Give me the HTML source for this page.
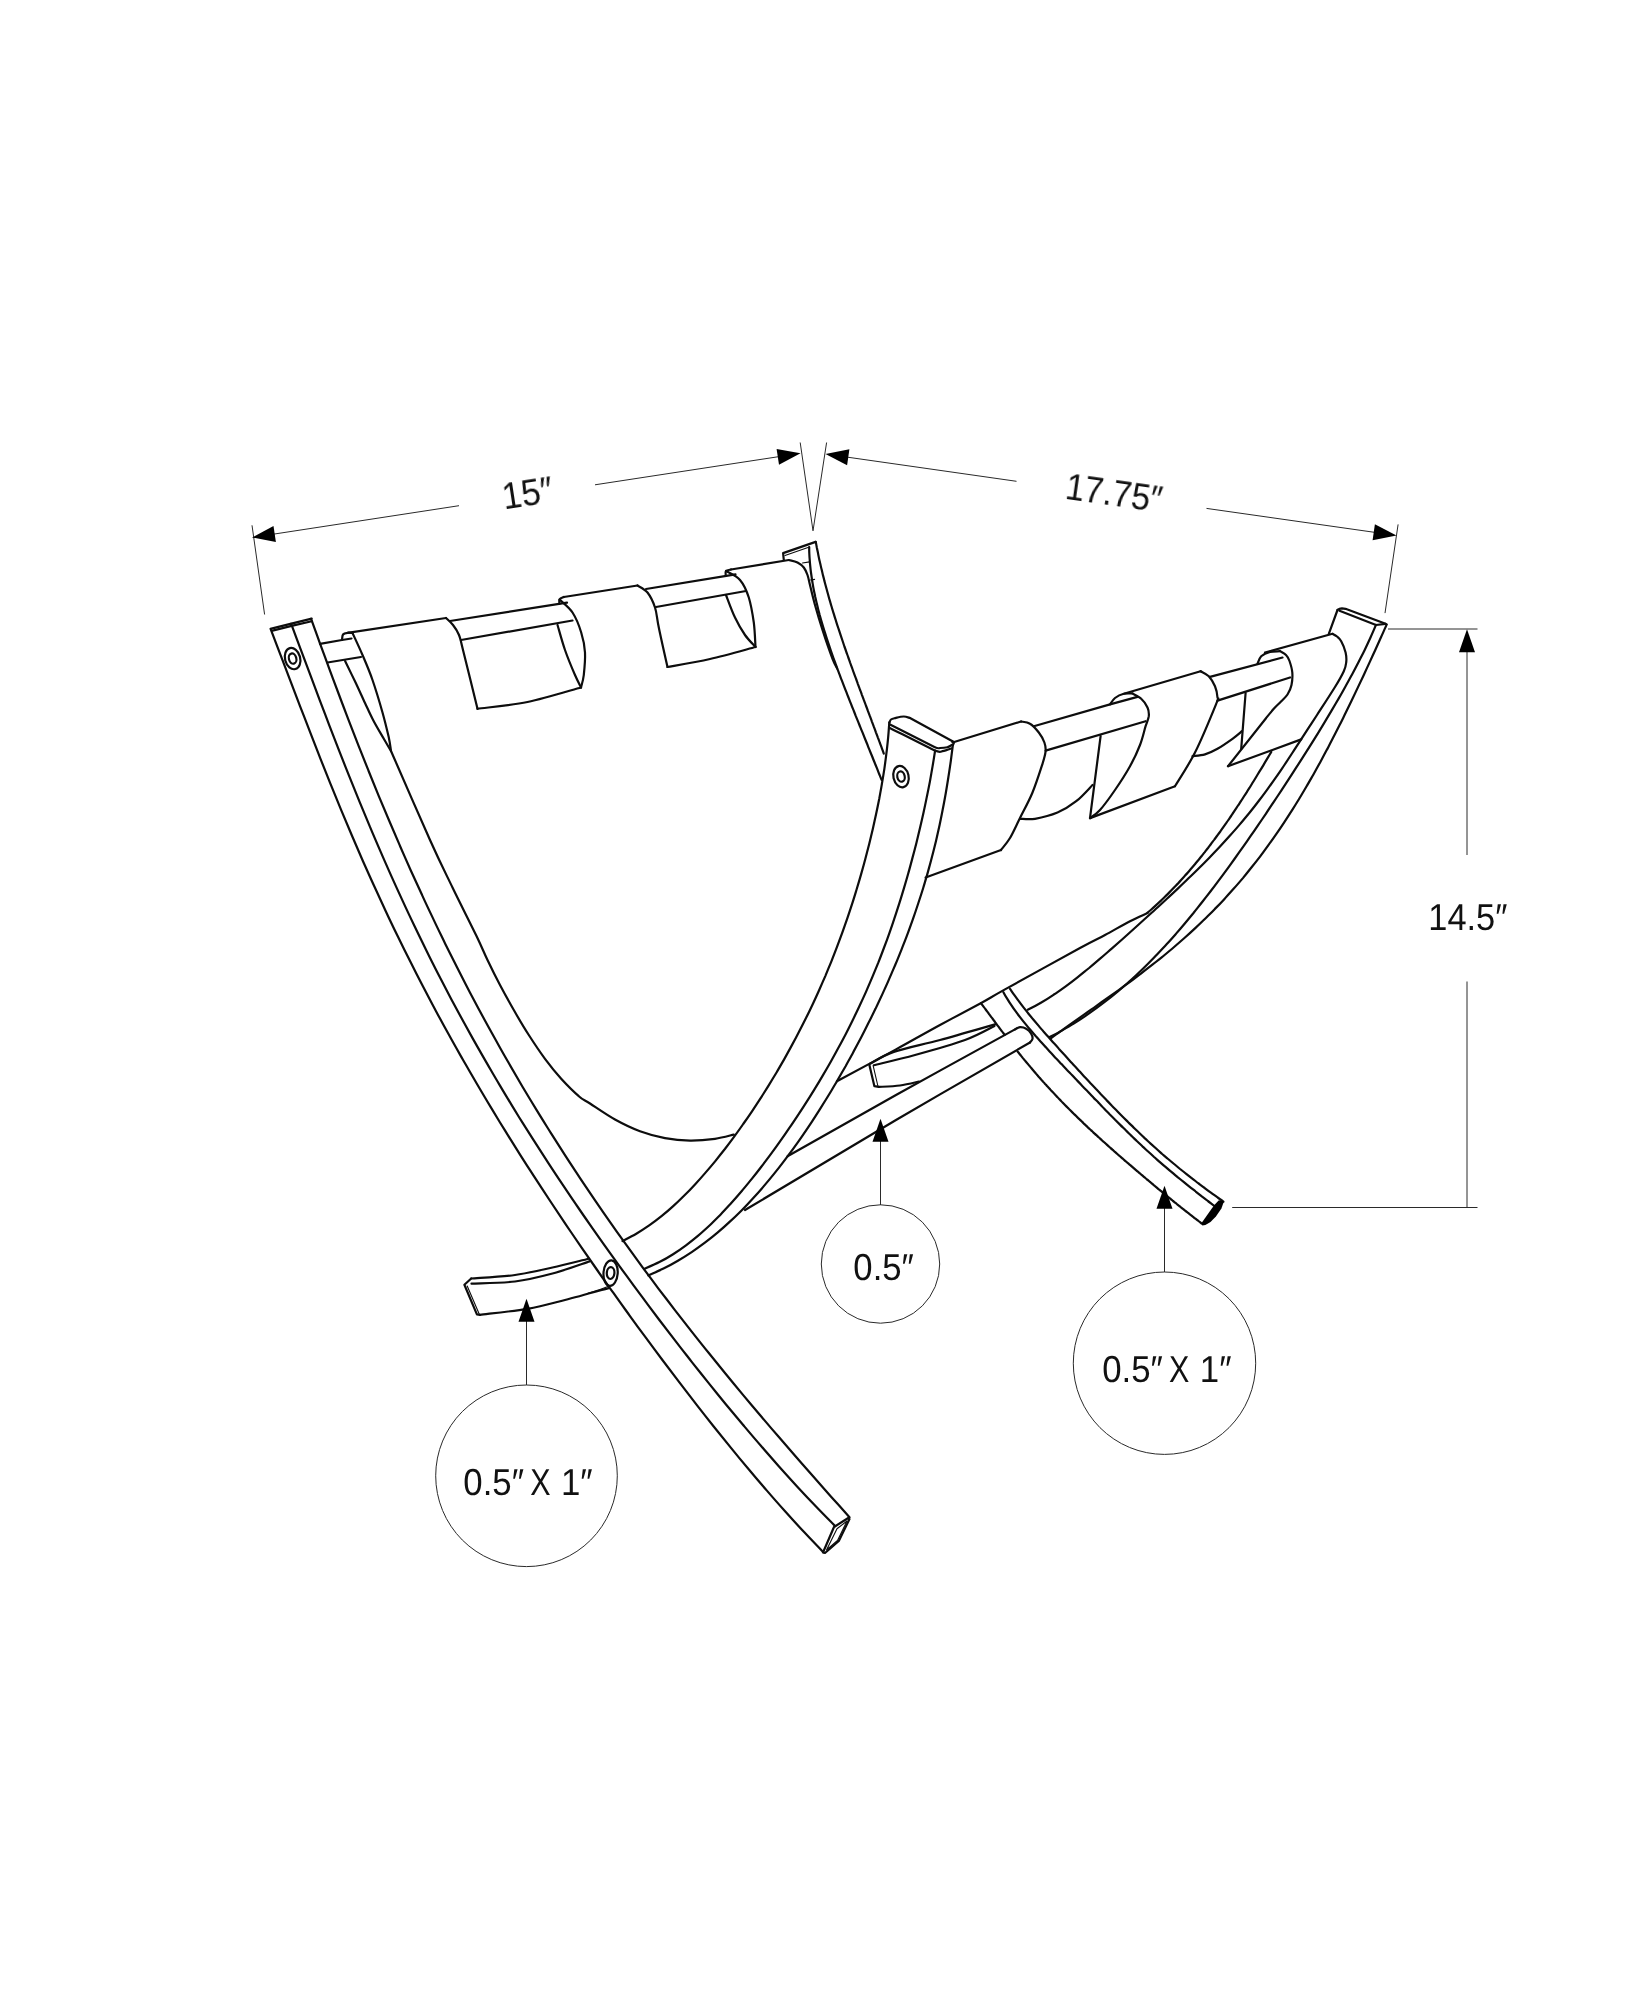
<!DOCTYPE html>
<html lang="en"><head><meta charset="utf-8"><title>Magazine rack dimensions</title>
<style>html,body{margin:0;padding:0;background:#fff}body{width:1648px;height:2000px;overflow:hidden}svg{display:block}</style>
</head><body>
<svg width="1648" height="2000" viewBox="0 0 1648 2000">
<rect width="1648" height="2000" fill="#fff"/>
<g fill="none" stroke="#0d0d0d" stroke-width="2.2" stroke-linecap="round" stroke-linejoin="round">
<path d="M270.6 628.9C272.2 633.3 277.2 646.2 280.5 654.9C283.8 663.5 287.1 672.2 290.4 680.8C293.7 689.5 297.0 698.1 300.3 706.8C303.7 715.4 307.0 724.1 310.3 732.7C313.7 741.4 317.0 750.0 320.4 758.6C323.9 767.2 327.3 775.8 330.7 784.4C334.2 793.0 337.7 801.6 341.2 810.1C344.8 818.7 348.4 827.2 352.0 835.7C355.6 844.2 359.3 852.7 363.0 861.2C366.8 869.7 370.5 878.1 374.4 886.5C378.2 894.9 382.1 903.3 386.0 911.7C389.9 920.1 393.9 928.4 398.0 936.8C402.0 945.1 406.1 953.4 410.3 961.6C414.4 969.9 418.6 978.1 422.9 986.3C427.2 994.6 431.5 1002.7 435.9 1010.9C440.2 1019.0 444.7 1027.2 449.2 1035.3C453.6 1043.4 458.2 1051.4 462.8 1059.5C467.4 1067.5 472.0 1075.6 476.7 1083.5C481.4 1091.5 486.1 1099.5 490.9 1107.4C495.7 1115.4 500.5 1123.3 505.4 1131.2C510.3 1139.1 515.2 1146.9 520.2 1154.8C525.1 1162.6 530.2 1170.4 535.2 1178.2C540.3 1186.0 545.3 1193.7 550.5 1201.5C555.6 1209.2 560.7 1216.9 565.9 1224.6C571.1 1232.3 576.4 1240.0 581.6 1247.6C586.9 1255.3 592.2 1262.9 597.5 1270.5C602.8 1278.1 608.2 1285.6 613.6 1293.2C618.9 1300.8 624.4 1308.3 629.8 1315.8C635.2 1323.3 640.7 1330.8 646.2 1338.2C651.7 1345.7 657.2 1353.1 662.8 1360.5C668.4 1367.9 674.0 1375.3 679.6 1382.7C685.2 1390.0 690.9 1397.4 696.5 1404.7C702.2 1412.0 708.0 1419.2 713.7 1426.5C719.5 1433.7 725.3 1440.9 731.2 1448.1C737.0 1455.3 742.9 1462.4 748.9 1469.5C754.8 1476.6 760.8 1483.6 766.9 1490.6C772.9 1497.6 779.1 1504.6 785.3 1511.5C791.5 1518.4 797.7 1525.3 804.1 1532.1C810.4 1538.9 820.2 1548.9 823.4 1552.3"/>
<path d="M291.2 623.8C292.7 628.0 297.5 640.7 300.6 649.2C303.8 657.7 307.0 666.2 310.2 674.7C313.3 683.2 316.5 691.7 319.7 700.2C323.0 708.7 326.2 717.1 329.4 725.6C332.7 734.1 336.0 742.6 339.3 751.1C342.6 759.5 345.9 768.0 349.3 776.4C352.7 784.9 356.1 793.3 359.5 801.7C363.0 810.1 366.5 818.5 370.0 826.9C373.5 835.3 377.1 843.6 380.7 851.9C384.3 860.3 388.0 868.6 391.7 876.9C395.4 885.2 399.2 893.4 403.0 901.6C406.8 909.9 410.7 918.1 414.6 926.3C418.5 934.5 422.5 942.6 426.5 950.7C430.5 958.9 434.6 967.0 438.7 975.0C442.9 983.1 447.1 991.2 451.3 999.2C455.6 1007.2 459.9 1015.2 464.2 1023.1C468.6 1031.1 473.0 1039.0 477.5 1046.9C482.0 1054.8 486.5 1062.7 491.1 1070.5C495.6 1078.3 500.3 1086.1 504.9 1093.9C509.6 1101.7 514.4 1109.4 519.1 1117.2C523.9 1124.9 528.8 1132.6 533.6 1140.2C538.5 1147.9 543.5 1155.5 548.4 1163.1C553.4 1170.8 558.4 1178.3 563.5 1185.9C568.5 1193.4 573.6 1201.0 578.8 1208.5C583.9 1216.0 589.1 1223.4 594.3 1230.9C599.5 1238.3 604.8 1245.8 610.1 1253.1C615.4 1260.5 620.7 1267.9 626.1 1275.2C631.4 1282.6 636.8 1289.9 642.3 1297.2C647.7 1304.5 653.1 1311.7 658.6 1319.0C664.1 1326.2 669.6 1333.4 675.2 1340.6C680.7 1347.8 686.3 1354.9 691.9 1362.1C697.6 1369.2 703.2 1376.3 708.9 1383.4C714.6 1390.4 720.3 1397.5 726.0 1404.5C731.8 1411.5 737.6 1418.4 743.4 1425.3C749.3 1432.3 755.1 1439.2 761.1 1446.0C767.0 1452.9 773.0 1459.7 779.0 1466.5C785.0 1473.2 791.1 1480.0 797.3 1486.7C803.4 1493.3 809.7 1500.0 816.0 1506.5C822.3 1513.1 831.9 1522.8 835.1 1526.1"/>
<path d="M311.1 618.9C312.6 623.1 317.2 635.8 320.3 644.3C323.4 652.7 326.5 661.2 329.6 669.6C332.7 678.1 335.9 686.5 339.1 695.0C342.2 703.4 345.5 711.9 348.7 720.3C351.9 728.7 355.2 737.1 358.5 745.6C361.8 754.0 365.2 762.4 368.5 770.7C371.9 779.1 375.3 787.5 378.7 795.8C382.2 804.2 385.7 812.5 389.2 820.8C392.7 829.1 396.3 837.4 399.9 845.7C403.5 854.0 407.1 862.2 410.8 870.5C414.5 878.7 418.3 886.9 422.1 895.1C425.8 903.3 429.7 911.4 433.6 919.6C437.4 927.7 441.4 935.8 445.3 943.9C449.3 952.0 453.4 960.1 457.4 968.1C461.5 976.2 465.6 984.2 469.8 992.2C474.0 1000.1 478.2 1008.1 482.5 1016.0C486.8 1024.0 491.2 1031.9 495.6 1039.7C499.9 1047.6 504.4 1055.5 508.9 1063.3C513.4 1071.1 517.9 1078.9 522.5 1086.7C527.1 1094.4 531.8 1102.2 536.5 1109.9C541.2 1117.6 546.0 1125.2 550.8 1132.9C555.6 1140.5 560.4 1148.1 565.3 1155.7C570.2 1163.3 575.2 1170.8 580.2 1178.4C585.2 1185.9 590.3 1193.4 595.4 1200.8C600.5 1208.3 605.6 1215.7 610.8 1223.1C616.0 1230.5 621.2 1237.8 626.5 1245.2C631.8 1252.5 637.1 1259.8 642.4 1267.1C647.8 1274.3 653.2 1281.6 658.6 1288.8C664.1 1296.0 669.6 1303.1 675.1 1310.3C680.6 1317.4 686.1 1324.5 691.7 1331.6C697.3 1338.7 702.9 1345.8 708.6 1352.8C714.2 1359.8 719.9 1366.8 725.6 1373.8C731.3 1380.7 737.1 1387.7 742.8 1394.6C748.6 1401.5 754.4 1408.4 760.2 1415.3C766.1 1422.2 771.9 1429.0 777.8 1435.8C783.7 1442.7 789.6 1449.5 795.5 1456.3C801.4 1463.1 807.4 1469.9 813.3 1476.6C819.3 1483.4 825.3 1490.2 831.3 1496.9C837.4 1503.7 846.5 1513.8 849.5 1517.2"/>
<path d="M271.4 628.6L291.4 623.6L311.7 618.6"/>
<path d="M272.6 630.6L291.6 625.9L311.6 621.2"/>
<path d="M849.0 1517.5L834.0 1527.0L823.0 1552.5L825.0 1553.0L838.8 1541.0L849.5 1519.0"/>
<path d="M320.0 643.8L342.0 640.0"/>
<path d="M327.5 662.5L361.0 657.0"/>
<path d="M342.0 640.0C342.2 639.1 342.1 635.7 343.0 634.5C343.9 633.3 345.9 633.0 347.5 632.8C349.1 632.5 351.7 633.0 352.5 633.0"/>
<path d="M342.0 640.0L351.5 638.5"/>
<path d="M347.5 632.8L446.0 618.0"/>
<path d="M352.5 633.0C354.2 636.7 359.2 647.2 362.5 655.0C365.8 662.8 369.2 670.4 372.5 680.0C375.8 689.6 379.8 702.9 382.5 712.5C385.2 722.1 387.3 731.1 388.8 737.5C390.2 743.9 390.6 748.8 391.0 751.0"/>
<path d="M345.1 661.1C346.9 664.8 352.4 676.0 355.8 683.0C359.1 690.0 362.1 696.8 365.0 703.0C367.9 709.2 370.0 714.0 373.1 720.0C376.2 726.0 380.8 733.6 383.8 738.8C386.7 743.9 389.8 749.0 391.0 751.0"/>
<path d="M391.0 751.0C397.5 765.8 419.8 817.2 430.0 840.0C440.2 862.8 444.8 871.5 452.5 887.5C460.2 903.5 470.7 923.9 476.5 936.0C482.3 948.1 483.6 951.8 487.5 960.0C491.4 968.2 495.6 976.7 500.0 985.0C504.4 993.3 509.0 1001.7 513.8 1010.0C518.5 1018.3 523.5 1026.9 528.8 1035.0C534.0 1043.1 539.6 1051.5 545.0 1058.8C550.4 1066.0 555.6 1072.5 561.2 1078.8C566.9 1085.0 574.0 1092.1 578.8 1096.2C583.5 1100.4 584.0 1099.6 590.0 1103.5C596.0 1107.4 606.7 1114.9 615.0 1119.5C623.3 1124.1 631.7 1128.2 640.0 1131.2C648.3 1134.3 656.7 1136.5 665.0 1138.1C673.3 1139.7 681.7 1140.5 690.0 1140.6C698.3 1140.7 707.7 1139.8 715.0 1138.8C722.3 1137.8 730.6 1135.3 733.8 1134.6"/>
<path d="M446.0 618.0C447.2 619.2 450.8 622.2 453.0 625.0C455.2 627.8 457.3 630.8 459.0 635.0C460.7 639.2 459.9 637.7 463.0 650.0C466.1 662.3 475.1 699.0 477.5 708.8"/>
<path d="M477.5 708.8C485.8 707.6 510.2 705.5 527.5 702.0C544.8 698.5 572.1 689.9 581.0 687.5"/>
<path d="M559.5 599.5C561.7 601.7 568.9 607.0 572.5 612.5C576.1 618.0 579.2 625.8 581.2 632.5C583.3 639.2 584.6 645.4 585.0 652.5C585.4 659.6 584.4 669.2 583.8 675.0C583.1 680.8 581.5 685.4 581.0 687.5"/>
<path d="M557.5 625.0C558.8 629.2 562.1 641.7 565.0 650.0C567.9 658.3 572.3 668.8 575.0 675.0C577.7 681.2 580.0 685.4 581.0 687.5"/>
<path d="M450.0 621.0L567.0 602.6"/>
<path d="M461.0 640.0L572.5 620.5"/>
<path d="M559.5 603.8C559.5 603.0 558.8 600.6 559.5 599.5C560.2 598.4 563.0 597.4 563.8 597.0"/>
<path d="M563.8 597.0L637.5 585.5"/>
<path d="M637.5 585.5C639.2 586.7 644.6 588.8 647.5 592.5C650.4 596.2 653.1 601.7 655.0 607.5C656.9 613.3 656.7 617.6 658.8 627.5C660.8 637.4 666.0 660.4 667.5 667.0"/>
<path d="M667.5 667.0C674.6 665.7 695.3 662.3 710.0 659.0C724.7 655.7 747.9 649.0 755.5 647.0"/>
<path d="M726.0 571.0C728.3 572.5 736.2 575.6 740.0 580.0C743.8 584.4 746.5 590.4 748.8 597.5C751.0 604.6 752.6 614.2 753.8 622.5C754.9 630.8 755.2 642.9 755.5 647.0"/>
<path d="M726.0 595.0C727.5 598.8 731.8 610.8 735.0 617.5C738.2 624.2 741.6 630.1 745.0 635.0C748.4 639.9 753.8 645.0 755.5 647.0"/>
<path d="M646.0 589.0L735.5 574.4"/>
<path d="M656.0 607.0L746.0 591.0"/>
<path d="M725.8 576.0C725.8 575.2 725.1 572.1 726.0 571.0C726.9 569.9 730.2 569.8 731.0 569.5"/>
<path d="M731.0 569.5L788.8 560.0"/>
<path d="M788.8 560.0C790.2 560.4 795.0 561.2 797.5 562.5C800.0 563.8 802.1 565.4 803.8 567.5C805.4 569.6 806.5 572.1 807.5 575.0C808.5 577.9 808.8 580.0 810.0 585.0C811.2 590.0 812.9 597.5 815.0 605.0C817.1 612.5 819.6 621.0 822.5 630.0C825.4 639.0 830.0 652.3 832.5 658.8C835.0 665.2 836.4 666.9 837.2 668.5"/>
<path d="M783.8 560.0L783.1 553.1L815.6 541.9"/>
<path d="M815.8 541.8C815.9 542.8 816.5 545.6 816.8 547.5C817.2 549.4 817.6 551.2 818.0 553.1C818.3 555.0 818.7 556.8 819.1 558.7C819.5 560.6 820.0 562.4 820.4 564.3C820.8 566.1 821.2 568.0 821.7 569.8C822.1 571.7 822.6 573.6 823.0 575.4C823.5 577.2 824.0 579.1 824.4 580.9C824.9 582.8 825.4 584.6 825.9 586.5C826.4 588.3 826.9 590.1 827.4 592.0C827.9 593.8 828.4 595.6 828.9 597.5C829.4 599.3 830.0 601.1 830.5 603.0C831.0 604.8 831.6 606.6 832.1 608.4C832.7 610.3 833.2 612.1 833.8 613.9C834.3 615.7 834.9 617.5 835.5 619.3C836.0 621.2 836.6 623.0 837.2 624.8C837.8 626.6 838.4 628.4 839.0 630.2C839.6 632.0 840.2 633.8 840.8 635.6C841.4 637.4 842.0 639.2 842.6 641.0C843.2 642.8 843.8 644.6 844.4 646.5C845.1 648.3 845.7 650.0 846.3 651.8C846.9 653.6 847.6 655.4 848.2 657.2C848.8 659.0 849.5 660.8 850.1 662.6C850.8 664.4 851.4 666.2 852.1 668.0C852.7 669.8 853.3 671.6 854.0 673.4C854.7 675.2 855.3 677.0 856.0 678.7C856.6 680.5 857.3 682.3 857.9 684.1C858.6 685.9 859.3 687.7 859.9 689.5C860.6 691.3 861.3 693.0 861.9 694.8C862.6 696.6 863.3 698.4 863.9 700.2C864.6 702.0 865.3 703.7 865.9 705.5C866.6 707.3 867.3 709.1 867.9 710.9C868.6 712.7 869.3 714.4 869.9 716.2C870.6 718.0 871.3 719.8 871.9 721.6C872.6 723.4 873.3 725.2 873.9 726.9C874.6 728.7 875.3 730.5 875.9 732.3C876.6 734.1 877.3 735.9 877.9 737.6C878.6 739.4 879.3 741.2 879.9 743.0C880.6 744.8 881.2 746.6 881.9 748.4C882.5 750.1 883.5 752.8 883.8 753.7"/>
<path d="M809.2 547.0C809.2 548.0 809.2 551.1 809.3 553.2C809.4 555.3 809.5 557.4 809.7 559.5C809.8 561.6 810.0 563.7 810.2 565.7C810.4 567.8 810.6 569.9 810.9 572.0C811.2 574.0 811.5 576.1 811.8 578.2C812.1 580.2 812.4 582.3 812.8 584.4C813.1 586.4 813.5 588.5 813.9 590.5C814.3 592.6 814.8 594.6 815.2 596.7C815.7 598.7 816.1 600.8 816.6 602.8C817.1 604.8 817.6 606.9 818.1 608.9C818.6 610.9 819.2 613.0 819.7 615.0C820.3 617.0 820.8 619.0 821.4 621.1C822.0 623.1 822.6 625.1 823.2 627.1C823.8 629.1 824.4 631.1 825.1 633.1C825.7 635.1 826.3 637.1 827.0 639.1C827.6 641.1 828.3 643.1 829.0 645.1C829.7 647.1 830.3 649.1 831.0 651.1C831.7 653.1 832.4 655.1 833.1 657.1C833.8 659.0 834.5 661.0 835.3 663.0C836.0 665.0 836.7 666.9 837.4 668.9C838.2 670.9 838.9 672.8 839.7 674.8C840.4 676.8 841.1 678.7 841.9 680.7C842.7 682.7 843.4 684.6 844.2 686.6C844.9 688.5 845.7 690.5 846.5 692.4C847.2 694.4 848.0 696.3 848.8 698.3C849.5 700.2 850.3 702.2 851.1 704.1C851.8 706.1 852.6 708.0 853.4 709.9C854.2 711.9 855.0 713.8 855.7 715.8C856.5 717.7 857.3 719.6 858.1 721.6C858.9 723.5 859.6 725.5 860.4 727.4C861.2 729.3 862.0 731.3 862.8 733.2C863.5 735.1 864.3 737.1 865.1 739.0C865.9 741.0 866.7 742.9 867.5 744.8C868.2 746.8 869.0 748.7 869.8 750.7C870.6 752.6 871.4 754.5 872.2 756.5C872.9 758.4 873.7 760.4 874.5 762.3C875.3 764.3 876.1 766.2 876.9 768.2C877.7 770.1 878.4 772.1 879.2 774.0C880.0 776.0 881.2 778.9 881.6 779.9"/>
<path d="M889.3 722.4C889.1 725.0 888.6 732.8 888.1 738.0C887.6 743.1 887.1 748.3 886.4 753.4C885.8 758.5 885.1 763.6 884.4 768.6C883.6 773.7 882.8 778.8 881.9 783.8C881.1 788.9 880.1 793.9 879.2 799.0C878.2 804.0 877.2 809.0 876.1 814.0C875.0 819.0 873.9 824.1 872.8 829.1C871.6 834.1 870.4 839.1 869.2 844.1C867.9 849.1 866.6 854.0 865.3 859.0C864.0 864.0 862.6 869.0 861.2 873.9C859.8 878.9 858.3 883.9 856.8 888.8C855.3 893.7 853.8 898.7 852.2 903.6C850.6 908.5 849.0 913.4 847.3 918.3C845.6 923.2 843.9 928.0 842.2 932.9C840.4 937.8 838.6 942.6 836.8 947.4C835.0 952.2 833.1 957.0 831.2 961.8C829.2 966.6 827.3 971.3 825.3 976.1C823.2 980.8 821.2 985.5 819.1 990.2C817.0 994.9 814.9 999.6 812.7 1004.2C810.5 1008.9 808.3 1013.5 806.0 1018.1C803.7 1022.7 801.4 1027.3 799.0 1031.8C796.7 1036.4 794.3 1040.9 791.8 1045.4C789.4 1049.9 786.9 1054.4 784.4 1058.9C781.8 1063.4 779.3 1067.8 776.7 1072.2C774.0 1076.6 771.4 1081.0 768.7 1085.4C766.0 1089.8 763.2 1094.1 760.5 1098.4C757.7 1102.7 754.8 1107.0 752.0 1111.3C749.1 1115.6 746.2 1119.8 743.2 1124.0C740.3 1128.3 737.3 1132.4 734.2 1136.6C731.1 1140.7 728.0 1144.9 724.9 1149.0C721.7 1153.0 718.5 1157.1 715.3 1161.1C712.0 1165.1 708.7 1169.0 705.3 1172.9C702.0 1176.8 698.5 1180.7 695.0 1184.4C691.5 1188.2 688.0 1191.9 684.3 1195.5C680.7 1199.1 677.0 1202.7 673.2 1206.1C669.4 1209.6 665.5 1212.9 661.5 1216.1C657.5 1219.3 653.4 1222.4 649.2 1225.4C645.0 1228.3 640.7 1231.1 636.3 1233.7C631.8 1236.3 624.8 1239.8 622.5 1241.0"/>
<path d="M935.1 750.6C934.7 753.2 933.5 761.0 932.6 766.1C931.7 771.3 930.8 776.4 929.9 781.6C928.9 786.7 927.9 791.8 926.8 796.9C925.8 802.1 924.7 807.2 923.6 812.3C922.4 817.4 921.3 822.5 920.1 827.6C918.9 832.7 917.6 837.8 916.4 842.9C915.1 848.0 913.8 853.0 912.4 858.1C911.1 863.2 909.7 868.2 908.3 873.3C906.9 878.3 905.4 883.4 903.9 888.4C902.4 893.4 900.9 898.4 899.3 903.4C897.7 908.4 896.1 913.4 894.4 918.4C892.8 923.4 891.1 928.3 889.3 933.3C887.6 938.2 885.8 943.1 883.9 948.0C882.1 952.9 880.2 957.8 878.3 962.7C876.3 967.5 874.3 972.4 872.3 977.2C870.3 982.0 868.2 986.8 866.1 991.6C864.0 996.3 861.8 1001.1 859.6 1005.8C857.4 1010.6 855.1 1015.3 852.8 1020.0C850.5 1024.6 848.2 1029.3 845.8 1033.9C843.4 1038.6 840.9 1043.2 838.4 1047.8C836.0 1052.4 833.4 1057.0 830.9 1061.5C828.3 1066.1 825.7 1070.6 823.0 1075.1C820.4 1079.6 817.7 1084.1 814.9 1088.6C812.2 1093.1 809.4 1097.5 806.6 1101.9C803.8 1106.4 800.9 1110.8 798.0 1115.1C795.1 1119.5 792.2 1123.9 789.2 1128.2C786.3 1132.6 783.3 1136.9 780.2 1141.1C777.2 1145.4 774.1 1149.7 771.0 1153.9C767.9 1158.1 764.7 1162.3 761.5 1166.5C758.3 1170.7 755.1 1174.8 751.8 1178.9C748.5 1182.9 745.2 1187.0 741.8 1191.0C738.4 1195.0 735.0 1198.9 731.5 1202.8C728.0 1206.6 724.5 1210.5 720.9 1214.2C717.2 1217.9 713.6 1221.6 709.8 1225.2C706.0 1228.7 702.2 1232.2 698.2 1235.6C694.2 1238.9 690.2 1242.2 686.0 1245.3C681.8 1248.4 677.6 1251.4 673.1 1254.2C668.7 1257.0 664.1 1259.7 659.4 1262.1C654.6 1264.5 647.1 1267.7 644.6 1268.8"/>
<path d="M952.9 745.2C952.5 747.8 951.5 755.7 950.8 761.1C950.0 766.4 949.3 771.7 948.4 777.0C947.6 782.3 946.7 787.7 945.8 793.0C944.8 798.4 943.9 803.7 942.8 809.0C941.8 814.4 940.7 819.7 939.6 825.0C938.4 830.3 937.2 835.6 936.0 840.9C934.7 846.2 933.4 851.5 932.0 856.7C930.7 862.0 929.2 867.2 927.8 872.4C926.3 877.7 924.7 882.9 923.2 888.0C921.6 893.2 919.9 898.4 918.2 903.5C916.5 908.7 914.8 913.8 913.0 918.9C911.2 924.0 909.4 929.1 907.5 934.1C905.6 939.2 903.6 944.2 901.6 949.3C899.6 954.3 897.6 959.3 895.5 964.3C893.4 969.2 891.3 974.2 889.1 979.1C887.0 984.1 884.7 989.0 882.5 993.9C880.2 998.8 877.9 1003.7 875.6 1008.6C873.2 1013.4 870.9 1018.3 868.4 1023.1C866.0 1028.0 863.6 1032.8 861.1 1037.6C858.6 1042.4 856.0 1047.2 853.4 1051.9C850.9 1056.7 848.2 1061.4 845.6 1066.2C842.9 1070.9 840.2 1075.6 837.5 1080.3C834.8 1085.0 832.0 1089.6 829.2 1094.3C826.4 1098.9 823.5 1103.5 820.6 1108.1C817.7 1112.7 814.8 1117.3 811.8 1121.8C808.8 1126.3 805.8 1130.8 802.7 1135.3C799.6 1139.8 796.5 1144.2 793.3 1148.6C790.1 1153.0 786.9 1157.3 783.6 1161.6C780.3 1166.0 777.0 1170.2 773.6 1174.4C770.2 1178.6 766.7 1182.8 763.2 1186.9C759.7 1191.0 756.1 1195.0 752.4 1199.0C748.8 1203.0 745.1 1206.9 741.3 1210.7C737.5 1214.5 733.6 1218.3 729.6 1221.9C725.7 1225.6 721.6 1229.2 717.5 1232.6C713.4 1236.1 709.2 1239.4 704.9 1242.7C700.6 1245.9 696.2 1249.1 691.7 1252.1C687.2 1255.1 682.6 1258.0 677.9 1260.7C673.2 1263.5 668.4 1266.1 663.5 1268.5C658.6 1271.0 650.9 1274.2 648.4 1275.4"/>
<path d="M889.4 722.5C889.7 722.0 890.1 720.2 891.0 719.5C891.9 718.8 892.9 718.6 895.0 718.1C897.1 717.6 901.2 716.5 903.8 716.5C906.2 716.5 909.0 717.8 910.0 718.0"/>
<path d="M910.0 718.0L952.5 741.2"/>
<path d="M952.5 741.2C952.7 741.5 953.8 742.0 953.9 742.6C954.0 743.2 953.1 744.6 953.0 745.0"/>
<path d="M890.0 724.4C894.4 726.6 929.4 744.5 934.4 746.9C939.4 749.3 938.7 748.0 940.0 748.0C941.3 748.0 946.3 747.5 947.5 747.2C948.7 747.0 951.5 745.2 951.9 745.0"/>
<path d="M890.3 728.2C894.8 730.4 929.8 748.3 935.0 750.6C940.2 752.9 940.9 751.5 942.5 751.2C944.1 751.0 950.4 748.8 951.2 748.5"/>
<path d="M471.2 1278.5C478.5 1277.9 501.5 1276.8 515.0 1275.0C528.5 1273.2 540.2 1270.2 552.5 1267.5C564.8 1264.8 582.7 1260.2 588.8 1258.8"/>
<path d="M471.5 1283.6C478.8 1283.2 501.5 1283.2 515.0 1281.5C528.5 1279.8 540.1 1276.8 552.5 1273.5C564.9 1270.2 583.4 1263.4 589.6 1261.4"/>
<path d="M471.2 1278.5L464.4 1284.8L476.9 1314.4L480.0 1314.8"/>
<path d="M480.0 1314.8C487.9 1313.8 513.3 1311.2 527.5 1308.8C541.7 1306.3 551.5 1303.4 565.0 1300.0C578.5 1296.6 601.5 1290.1 608.8 1288.1"/>
<path d="M952.5 742.5L1021.0 721.5"/>
<path d="M1021.0 721.5C1022.5 721.9 1027.0 721.9 1030.0 723.8C1033.0 725.6 1036.3 729.4 1038.8 732.5C1041.2 735.6 1043.3 739.4 1044.4 742.5C1045.5 745.6 1045.9 747.7 1045.6 751.2C1045.3 754.8 1044.7 756.9 1042.5 763.8C1040.3 770.6 1036.2 783.5 1032.5 792.5C1028.8 801.5 1023.8 810.4 1020.0 818.0C1016.2 825.6 1013.2 832.7 1010.0 838.0C1006.8 843.3 1002.5 848.0 1001.0 850.0"/>
<path d="M1001.0 850.0L925.6 877.5"/>
<path d="M1033.8 726.2L1110.0 704.4L1137.5 696.9"/>
<path d="M1045.6 750.6L1145.6 721.2"/>
<path d="M1110.0 704.4C1110.8 703.3 1112.7 699.8 1115.0 698.0C1117.3 696.2 1120.8 694.5 1123.8 693.8C1126.7 693.0 1131.0 693.5 1132.5 693.5"/>
<path d="M1123.8 693.8L1200.6 671.2"/>
<path d="M1132.5 693.5C1134.0 694.4 1138.8 696.4 1141.2 698.8C1143.8 701.1 1146.2 704.6 1147.5 707.5C1148.8 710.4 1149.1 713.1 1148.8 716.2C1148.4 719.4 1147.1 721.5 1145.6 726.2C1144.1 731.0 1142.6 738.3 1140.0 745.0C1137.4 751.7 1134.2 758.8 1130.0 766.2C1125.8 773.8 1120.0 782.7 1115.0 790.0C1110.0 797.3 1104.2 805.3 1100.0 810.0C1095.8 814.7 1091.7 816.8 1090.0 818.1"/>
<path d="M1200.6 671.2C1202.0 672.1 1206.3 673.8 1208.8 676.2C1211.2 678.8 1213.5 682.7 1215.0 686.2C1216.5 689.8 1217.3 694.6 1217.5 697.5C1217.7 700.4 1220.0 694.6 1216.2 703.8C1212.5 712.9 1201.9 738.8 1195.0 752.5C1188.1 766.2 1178.3 780.6 1175.0 786.2"/>
<path d="M1175.0 786.2L1090.0 818.1"/>
<path d="M1100.6 736.2L1090.0 818.1"/>
<path d="M1020.0 818.8C1022.5 818.8 1028.8 819.8 1035.0 818.8C1041.2 817.7 1050.6 815.4 1057.5 812.5C1064.4 809.6 1070.4 805.8 1076.2 801.2C1082.1 796.7 1089.8 787.7 1092.5 785.0"/>
<path d="M1210.0 676.9L1282.5 657.5"/>
<path d="M1217.5 700.6L1290.0 677.5"/>
<path d="M1257.5 663.8C1258.1 662.5 1259.2 658.2 1261.2 656.2C1263.3 654.3 1266.9 652.7 1270.0 651.9C1273.1 651.1 1278.3 651.4 1280.0 651.2"/>
<path d="M1265.0 652.5L1332.5 633.8"/>
<path d="M1280.0 651.2C1281.0 651.9 1284.4 653.4 1286.0 655.0C1287.6 656.6 1288.5 658.1 1289.5 661.0C1290.5 663.9 1292.0 668.5 1292.3 672.5C1292.6 676.5 1292.3 681.3 1291.5 685.0C1290.7 688.7 1289.2 691.8 1287.5 694.5C1285.8 697.2 1283.2 699.2 1281.0 701.5C1278.8 703.8 1276.5 705.7 1274.0 708.5C1271.5 711.3 1267.3 716.6 1266.0 718.2L1228 766.25"/>
<path d="M1228.0 766.2L1301.2 739.4"/>
<path d="M1245.6 693.0L1241.2 748.8"/>
<path d="M1192.5 756.2C1194.6 755.9 1200.8 755.6 1205.0 754.4C1209.2 753.1 1212.9 751.4 1217.5 748.8C1222.1 746.1 1228.4 741.7 1232.5 738.8C1236.6 735.8 1240.3 732.5 1241.9 731.2"/>
<path d="M1328.8 633.8L1337.5 610.0"/>
<path d="M1337.5 610.0L1339.3 608.9L1342.0 608.4L1345.5 608.8L1385.6 623.8"/>
<path d="M1339.5 610.8L1376.0 625.0L1385.6 623.8"/>
<path d="M1386.8 624.4C1385.8 626.5 1383.0 632.8 1381.1 637.0C1379.3 641.1 1377.4 645.3 1375.5 649.5C1373.6 653.7 1371.6 657.9 1369.7 662.1C1367.8 666.3 1365.8 670.5 1363.9 674.7C1361.9 679.0 1359.9 683.2 1357.9 687.4C1355.9 691.6 1353.9 695.8 1351.9 700.0C1349.9 704.2 1347.8 708.4 1345.8 712.6C1343.7 716.8 1341.7 721.0 1339.6 725.1C1337.5 729.3 1335.3 733.5 1333.2 737.6C1331.1 741.8 1328.9 745.9 1326.7 750.1C1324.5 754.2 1322.3 758.3 1320.1 762.4C1317.8 766.5 1315.6 770.6 1313.3 774.7C1311.0 778.7 1308.7 782.8 1306.3 786.8C1304.0 790.8 1301.6 794.8 1299.2 798.8C1296.7 802.8 1294.3 806.7 1291.8 810.7C1289.3 814.6 1286.8 818.5 1284.2 822.4C1281.7 826.2 1279.1 830.1 1276.4 833.9C1273.8 837.7 1271.1 841.5 1268.4 845.2C1265.7 849.0 1263.0 852.7 1260.2 856.4C1257.4 860.1 1254.5 863.7 1251.6 867.3C1248.7 870.9 1245.8 874.5 1242.9 878.1C1239.9 881.6 1236.9 885.1 1233.8 888.6C1230.8 892.0 1227.6 895.5 1224.5 898.9C1221.4 902.3 1218.2 905.6 1214.9 908.9C1211.7 912.3 1208.4 915.5 1205.1 918.8C1201.8 922.0 1198.4 925.2 1195.0 928.4C1191.6 931.6 1188.2 934.7 1184.7 937.8C1181.2 940.9 1177.7 944.0 1174.1 947.0C1170.6 950.0 1167.0 953.0 1163.4 956.0C1159.8 958.9 1156.1 961.8 1152.4 964.7C1148.7 967.6 1145.0 970.5 1141.3 973.3C1137.6 976.2 1133.8 979.0 1130.0 981.8C1126.2 984.6 1122.5 987.3 1118.7 990.1C1114.9 992.8 1111.0 995.5 1107.2 998.2C1103.4 1000.9 1099.6 1003.6 1095.8 1006.3C1092.0 1009.0 1088.1 1011.6 1084.4 1014.3C1080.6 1017.0 1076.8 1019.6 1073.0 1022.3C1069.3 1024.9 1065.5 1027.6 1061.9 1030.3C1058.2 1032.9 1052.7 1037.0 1050.9 1038.3"/>
<path d="M1376.0 624.9C1375.1 627.0 1372.4 633.3 1370.5 637.5C1368.6 641.7 1366.7 645.8 1364.7 649.9C1362.7 654.0 1360.6 658.1 1358.6 662.1C1356.5 666.2 1354.4 670.2 1352.2 674.2C1350.0 678.3 1347.9 682.3 1345.6 686.2C1343.4 690.2 1341.2 694.2 1338.9 698.1C1336.6 702.0 1334.3 706.0 1332.0 709.9C1329.7 713.8 1327.4 717.7 1325.0 721.6C1322.7 725.5 1320.3 729.4 1317.9 733.3C1315.5 737.1 1313.1 741.0 1310.7 744.9C1308.3 748.7 1305.8 752.6 1303.4 756.4C1301.0 760.2 1298.5 764.1 1296.0 767.9C1293.6 771.7 1291.1 775.6 1288.6 779.4C1286.1 783.2 1283.6 787.0 1281.1 790.8C1278.6 794.6 1276.1 798.4 1273.6 802.2C1271.0 806.0 1268.5 809.8 1266.0 813.6C1263.4 817.4 1260.9 821.1 1258.3 824.9C1255.7 828.7 1253.1 832.4 1250.5 836.2C1247.9 839.9 1245.3 843.7 1242.7 847.4C1240.1 851.1 1237.4 854.8 1234.8 858.5C1232.1 862.2 1229.5 865.9 1226.8 869.6C1224.1 873.3 1221.4 877.0 1218.6 880.6C1215.9 884.3 1213.2 887.9 1210.4 891.5C1207.6 895.1 1204.8 898.7 1202.0 902.3C1199.2 905.9 1196.3 909.4 1193.5 913.0C1190.6 916.5 1187.7 920.0 1184.8 923.5C1181.8 927.0 1178.9 930.4 1175.9 933.9C1172.9 937.3 1169.9 940.7 1166.8 944.0C1163.7 947.4 1160.6 950.7 1157.5 954.0C1154.4 957.3 1151.2 960.5 1148.0 963.7C1144.8 966.9 1141.5 970.1 1138.2 973.2C1134.9 976.4 1131.6 979.4 1128.2 982.5C1124.8 985.5 1121.4 988.5 1117.9 991.4C1114.4 994.3 1110.9 997.2 1107.3 1000.0C1103.7 1002.8 1100.1 1005.5 1096.4 1008.2C1092.7 1010.9 1089.0 1013.5 1085.2 1016.1C1081.4 1018.7 1077.6 1021.2 1073.7 1023.6C1069.8 1026.0 1065.8 1028.3 1061.8 1030.6C1057.8 1032.9 1051.7 1036.1 1049.6 1037.1"/>
<path d="M1332.5 633.8C1333.2 634.2 1335.5 635.2 1337.0 636.5C1338.5 637.8 1339.8 638.6 1341.2 641.2C1342.7 643.9 1344.8 649.0 1345.6 652.5C1346.4 656.0 1346.6 659.4 1346.2 662.5C1345.9 665.6 1345.6 667.2 1343.8 671.2C1341.9 675.3 1339.5 679.7 1335.0 687.0C1330.5 694.3 1321.4 708.2 1317.0 715.0C1312.6 721.7 1311.6 723.2 1308.9 727.3C1306.2 731.5 1303.5 735.7 1300.8 739.9C1298.1 744.1 1295.4 748.3 1292.6 752.5C1289.9 756.6 1287.2 760.8 1284.4 765.0C1281.6 769.1 1278.8 773.3 1275.9 777.4C1273.1 781.5 1270.2 785.5 1267.2 789.6C1264.3 793.6 1261.3 797.6 1258.3 801.5C1255.3 805.5 1252.2 809.4 1249.1 813.2C1245.9 817.1 1242.8 820.9 1239.6 824.6C1236.4 828.4 1233.1 832.1 1229.8 835.8C1226.5 839.5 1223.2 843.1 1219.8 846.7C1216.4 850.3 1213.0 853.9 1209.6 857.4C1206.1 861.0 1202.6 864.5 1199.1 868.0C1195.6 871.4 1192.1 874.9 1188.5 878.3C1185.0 881.8 1181.4 885.2 1177.8 888.6C1174.2 892.0 1170.6 895.4 1166.9 898.7C1163.3 902.1 1159.7 905.5 1156.0 908.8C1152.4 912.2 1148.7 915.5 1145.0 918.8C1141.3 922.2 1137.7 925.5 1134.0 928.8C1130.3 932.1 1126.6 935.5 1122.9 938.8C1119.1 942.1 1115.4 945.4 1111.7 948.6C1107.9 951.9 1104.2 955.2 1100.4 958.4C1096.7 961.6 1092.9 964.8 1089.1 968.0C1085.2 971.1 1081.4 974.3 1077.5 977.3C1073.6 980.4 1069.7 983.4 1065.7 986.3C1061.7 989.2 1057.7 992.1 1053.5 994.8C1049.4 997.6 1045.2 1000.2 1040.9 1002.7C1036.6 1005.2 1029.9 1008.6 1027.7 1009.7"/>
<path d="M1271.3 751.9C1270.8 752.7 1269.5 754.9 1268.6 756.4C1267.7 757.9 1266.8 759.4 1265.9 760.9C1265.0 762.4 1264.1 763.9 1263.3 765.4C1262.4 766.9 1261.5 768.4 1260.5 769.9C1259.6 771.3 1258.7 772.8 1257.8 774.3C1256.9 775.8 1256.0 777.3 1255.1 778.8C1254.2 780.3 1253.3 781.8 1252.3 783.2C1251.4 784.7 1250.5 786.2 1249.6 787.7C1248.6 789.2 1247.7 790.6 1246.8 792.1C1245.8 793.6 1244.9 795.0 1243.9 796.5C1243.0 798.0 1242.1 799.5 1241.1 800.9C1240.2 802.4 1239.2 803.8 1238.2 805.3C1237.3 806.8 1236.3 808.2 1235.3 809.7C1234.4 811.1 1233.4 812.6 1232.4 814.0C1231.4 815.5 1230.5 816.9 1229.5 818.3C1228.5 819.8 1227.5 821.2 1226.5 822.7C1225.5 824.1 1224.5 825.5 1223.5 826.9C1222.5 828.4 1221.5 829.8 1220.5 831.2C1219.4 832.6 1218.4 834.0 1217.4 835.4C1216.4 836.8 1215.3 838.2 1214.3 839.6C1213.2 841.0 1212.2 842.4 1211.1 843.8C1210.1 845.2 1209.0 846.6 1208.0 848.0C1206.9 849.4 1205.8 850.7 1204.8 852.1C1203.7 853.5 1202.6 854.8 1201.5 856.2C1200.4 857.6 1199.3 858.9 1198.2 860.3C1197.1 861.6 1196.0 862.9 1194.9 864.3C1193.8 865.6 1192.6 867.0 1191.5 868.3C1190.4 869.6 1189.2 870.9 1188.1 872.2C1187.0 873.5 1185.8 874.8 1184.6 876.1C1183.5 877.4 1182.3 878.7 1181.1 880.0C1180.0 881.3 1178.8 882.6 1177.6 883.9C1176.4 885.1 1175.2 886.4 1174.0 887.6C1172.8 888.9 1171.6 890.2 1170.3 891.4C1169.1 892.6 1167.9 893.9 1166.6 895.1C1165.4 896.3 1164.2 897.6 1162.9 898.8C1161.6 900.0 1160.4 901.2 1159.1 902.4C1157.8 903.6 1156.5 904.8 1155.3 905.9C1154.0 907.1 1152.7 908.3 1151.3 909.5C1150.0 910.6 1148.0 912.3 1147.4 912.9"/>
<path d="M836.9 1081.2C846.8 1075.9 878.8 1058.8 896.0 1049.4C913.2 1040.0 925.8 1032.7 940.0 1025.0C954.2 1017.3 970.4 1008.9 981.2 1003.0C992.1 997.1 988.5 998.6 1005.0 989.4C1021.5 980.2 1063.3 957.1 1080.0 948.0C1096.7 938.9 1096.7 939.5 1105.0 935.0C1113.3 930.5 1122.9 924.9 1130.0 921.2C1137.1 917.6 1144.6 914.4 1147.5 913.0"/>
<path d="M787.5 1156.2L896.0 1095.0L940.0 1070.6L1015.0 1029.4"/>
<path d="M1015.0 1029.4C1015.8 1029.0 1018.1 1027.4 1020.0 1027.2C1021.9 1027.1 1024.4 1027.7 1026.2 1028.8C1028.1 1029.8 1030.2 1032.1 1031.2 1033.8C1032.3 1035.4 1032.7 1037.3 1032.5 1038.8C1032.3 1040.2 1030.4 1041.9 1030.0 1042.5"/>
<path d="M1030.0 1042.5L940.0 1094.4L896.0 1120.0L745.0 1210.0"/>
<path d="M870.0 1063.8C874.0 1061.8 882.1 1055.9 893.8 1051.9C905.4 1047.9 923.1 1044.6 940.0 1040.0C956.9 1035.4 985.8 1027.0 995.0 1024.4"/>
<path d="M873.8 1065.2C880.6 1063.5 899.8 1059.2 915.0 1055.0C930.2 1050.8 951.8 1044.8 965.0 1040.0C978.2 1035.2 989.6 1028.3 994.5 1026.0"/>
<path d="M869.4 1065.0L874.4 1086.2L878.8 1086.9"/>
<path d="M878.8 1086.9C882.3 1086.7 893.3 1086.4 900.0 1085.5C906.7 1084.6 915.8 1082.2 919.0 1081.5"/>
<path d="M981.0 1003.2C981.3 1003.5 982.1 1004.6 982.6 1005.3C983.1 1006.0 983.6 1006.7 984.1 1007.4C984.7 1008.1 985.2 1008.8 985.7 1009.5C986.2 1010.2 986.7 1010.9 987.3 1011.6C987.8 1012.3 988.3 1013.0 988.8 1013.7C989.4 1014.4 989.9 1015.1 990.4 1015.8C990.9 1016.5 991.4 1017.2 992.0 1017.9C992.5 1018.6 993.0 1019.3 993.5 1020.0C994.1 1020.7 994.6 1021.4 995.1 1022.2C995.6 1022.9 996.2 1023.6 996.7 1024.3C997.2 1025.0 997.7 1025.7 998.3 1026.4C998.8 1027.1 999.3 1027.8 999.8 1028.5C1000.4 1029.2 1000.9 1029.9 1001.4 1030.6C1001.9 1031.3 1002.5 1032.0 1003.0 1032.7C1003.5 1033.4 1004.3 1034.4 1004.6 1034.8"/>
<path d="M1017.6 1051.4C1017.8 1051.8 1018.7 1052.8 1019.2 1053.5C1019.8 1054.2 1020.3 1054.9 1020.9 1055.6C1021.4 1056.2 1022.0 1056.9 1022.5 1057.6C1023.1 1058.3 1023.6 1059.0 1024.2 1059.6C1024.8 1060.3 1025.3 1061.0 1025.9 1061.7C1026.4 1062.4 1027.0 1063.0 1027.6 1063.7C1028.1 1064.4 1028.7 1065.1 1029.3 1065.7C1029.8 1066.4 1030.4 1067.1 1031.0 1067.7C1031.5 1068.4 1032.1 1069.1 1032.7 1069.8C1033.2 1070.4 1033.8 1071.1 1034.4 1071.8C1034.9 1072.4 1035.5 1073.1 1036.1 1073.8C1036.7 1074.4 1037.2 1075.1 1037.8 1075.7C1038.4 1076.4 1039.0 1077.1 1039.6 1077.7C1040.1 1078.4 1040.7 1079.0 1041.3 1079.7C1041.9 1080.3 1042.5 1081.0 1043.1 1081.7C1043.7 1082.3 1044.2 1083.0 1044.8 1083.6C1045.4 1084.3 1046.0 1084.9 1046.6 1085.6C1047.2 1086.2 1047.8 1086.9 1048.4 1087.5C1049.0 1088.2 1049.6 1088.8 1050.2 1089.4C1050.8 1090.1 1051.4 1090.7 1052.0 1091.4C1052.6 1092.0 1053.2 1092.7 1053.8 1093.3C1054.4 1093.9 1055.0 1094.6 1055.6 1095.2C1056.2 1095.9 1056.8 1096.5 1057.4 1097.1C1058.0 1097.8 1058.6 1098.4 1059.2 1099.0C1059.8 1099.7 1060.4 1100.3 1061.0 1100.9C1061.6 1101.6 1062.2 1102.2 1062.9 1102.8C1063.5 1103.4 1064.1 1104.1 1064.7 1104.7C1065.3 1105.3 1065.9 1105.9 1066.6 1106.6C1067.2 1107.2 1067.8 1107.8 1068.4 1108.4C1069.0 1109.1 1069.7 1109.7 1070.3 1110.3C1070.9 1110.9 1071.5 1111.5 1072.1 1112.1C1072.8 1112.8 1073.4 1113.4 1074.0 1114.0C1074.6 1114.6 1075.3 1115.2 1075.9 1115.8C1076.5 1116.5 1077.2 1117.1 1077.8 1117.7C1078.4 1118.3 1079.1 1118.9 1079.7 1119.5C1080.3 1120.1 1081.0 1120.7 1081.6 1121.3C1082.2 1121.9 1082.9 1122.5 1083.5 1123.2C1084.1 1123.8 1084.8 1124.4 1085.4 1125.0C1086.0 1125.6 1086.7 1126.2 1087.3 1126.8C1088.0 1127.4 1088.6 1128.0 1089.2 1128.6C1089.9 1129.2 1090.5 1129.8 1091.2 1130.4C1091.8 1131.0 1092.5 1131.6 1093.1 1132.2C1093.7 1132.8 1094.4 1133.4 1095.0 1134.0C1095.7 1134.5 1096.3 1135.1 1097.0 1135.7C1097.6 1136.3 1098.3 1136.9 1098.9 1137.5C1099.6 1138.1 1100.2 1138.7 1100.9 1139.3C1101.5 1139.9 1102.2 1140.5 1102.8 1141.1C1103.5 1141.6 1104.1 1142.2 1104.8 1142.8C1105.4 1143.4 1106.1 1144.0 1106.8 1144.6C1107.4 1145.2 1108.1 1145.8 1108.7 1146.3C1109.4 1146.9 1110.0 1147.5 1110.7 1148.1C1111.3 1148.7 1112.0 1149.3 1112.7 1149.8C1113.3 1150.4 1114.0 1151.0 1114.6 1151.6C1115.3 1152.2 1116.0 1152.8 1116.6 1153.3C1117.3 1153.9 1117.9 1154.5 1118.6 1155.1C1119.3 1155.6 1119.9 1156.2 1120.6 1156.8C1121.3 1157.4 1121.9 1158.0 1122.6 1158.5C1123.2 1159.1 1123.9 1159.7 1124.6 1160.3C1125.2 1160.8 1125.9 1161.4 1126.6 1162.0C1127.2 1162.6 1127.9 1163.1 1128.6 1163.7C1129.2 1164.3 1129.9 1164.9 1130.6 1165.4C1131.2 1166.0 1131.9 1166.6 1132.6 1167.2C1133.2 1167.7 1133.9 1168.3 1134.6 1168.9C1135.2 1169.4 1135.9 1170.0 1136.6 1170.6C1137.2 1171.2 1137.9 1171.7 1138.6 1172.3C1139.3 1172.9 1139.9 1173.4 1140.6 1174.0C1141.3 1174.6 1141.9 1175.1 1142.6 1175.7C1143.3 1176.3 1143.9 1176.8 1144.6 1177.4C1145.3 1178.0 1146.0 1178.5 1146.6 1179.1C1147.3 1179.7 1148.0 1180.2 1148.7 1180.8C1149.3 1181.4 1150.0 1181.9 1150.7 1182.5C1151.4 1183.1 1152.0 1183.6 1152.7 1184.2C1153.4 1184.8 1154.1 1185.3 1154.7 1185.9C1155.4 1186.4 1156.1 1187.0 1156.8 1187.6C1157.4 1188.1 1158.1 1188.7 1158.8 1189.3C1159.5 1189.8 1160.1 1190.4 1160.8 1190.9C1161.5 1191.5 1162.2 1192.1 1162.8 1192.6C1163.5 1193.2 1164.2 1193.7 1164.9 1194.3C1165.6 1194.8 1166.2 1195.4 1166.9 1196.0C1167.6 1196.5 1168.3 1197.1 1169.0 1197.6C1169.6 1198.2 1170.3 1198.7 1171.0 1199.3C1171.7 1199.9 1172.4 1200.4 1173.0 1201.0C1173.7 1201.5 1174.4 1202.1 1175.1 1202.6C1175.8 1203.2 1176.5 1203.7 1177.1 1204.3C1177.8 1204.8 1178.5 1205.4 1179.2 1205.9C1179.9 1206.5 1180.6 1207.0 1181.3 1207.6C1181.9 1208.1 1182.6 1208.7 1183.3 1209.2C1184.0 1209.8 1184.7 1210.3 1185.4 1210.8C1186.1 1211.4 1186.8 1211.9 1187.5 1212.5C1188.1 1213.0 1188.8 1213.6 1189.5 1214.1C1190.2 1214.6 1190.9 1215.2 1191.6 1215.7C1192.3 1216.3 1193.0 1216.8 1193.7 1217.3C1194.4 1217.9 1195.1 1218.4 1195.8 1218.9C1196.5 1219.5 1197.2 1220.0 1197.9 1220.5C1198.6 1221.1 1199.3 1221.6 1200.0 1222.1C1200.7 1222.7 1201.7 1223.5 1202.1 1223.7"/>
<path d="M1003.4 992.2C1004.0 993.4 1005.9 996.7 1007.3 998.9C1008.6 1001.1 1010.0 1003.3 1011.5 1005.4C1012.9 1007.6 1014.4 1009.7 1015.9 1011.7C1017.4 1013.8 1019.0 1015.9 1020.6 1017.9C1022.1 1019.9 1023.7 1021.9 1025.4 1023.9C1027.0 1025.9 1028.6 1027.9 1030.3 1029.8C1032.0 1031.8 1033.7 1033.7 1035.4 1035.7C1037.1 1037.6 1038.8 1039.5 1040.5 1041.4C1042.2 1043.3 1043.9 1045.3 1045.7 1047.1C1047.4 1049.0 1049.2 1050.9 1050.9 1052.8C1052.7 1054.7 1054.4 1056.6 1056.2 1058.5C1058.0 1060.3 1059.7 1062.2 1061.5 1064.1C1063.3 1066.0 1065.1 1067.8 1066.8 1069.7C1068.6 1071.6 1070.4 1073.4 1072.2 1075.3C1073.9 1077.2 1075.7 1079.0 1077.5 1080.9C1079.3 1082.7 1081.0 1084.6 1082.8 1086.5C1084.6 1088.3 1086.4 1090.2 1088.2 1092.0C1089.9 1093.9 1091.7 1095.7 1093.5 1097.6C1095.3 1099.4 1097.1 1101.3 1098.9 1103.1C1100.7 1105.0 1102.5 1106.8 1104.3 1108.7C1106.0 1110.5 1107.8 1112.3 1109.6 1114.2C1111.5 1116.0 1113.3 1117.8 1115.1 1119.7C1116.9 1121.5 1118.7 1123.3 1120.5 1125.1C1122.3 1126.9 1124.2 1128.7 1126.0 1130.5C1127.8 1132.3 1129.7 1134.1 1131.5 1135.9C1133.4 1137.7 1135.2 1139.5 1137.1 1141.3C1139.0 1143.0 1140.8 1144.8 1142.7 1146.6C1144.6 1148.3 1146.5 1150.1 1148.4 1151.8C1150.3 1153.5 1152.2 1155.2 1154.1 1157.0C1156.0 1158.7 1158.0 1160.4 1159.9 1162.1C1161.8 1163.8 1163.8 1165.5 1165.8 1167.1C1167.7 1168.8 1169.7 1170.5 1171.7 1172.1C1173.6 1173.8 1175.6 1175.4 1177.6 1177.1C1179.6 1178.7 1181.6 1180.3 1183.6 1181.9C1185.6 1183.6 1187.6 1185.2 1189.7 1186.8C1191.7 1188.4 1193.7 1189.9 1195.7 1191.5C1197.8 1193.1 1199.8 1194.7 1201.8 1196.3C1203.8 1197.8 1205.9 1199.4 1207.9 1201.0C1209.9 1202.5 1212.9 1204.9 1213.9 1205.6"/>
<path d="M1010.0 988.8C1010.7 989.8 1012.9 993.1 1014.4 995.2C1015.9 997.3 1017.4 999.4 1019.0 1001.4C1020.5 1003.5 1022.1 1005.6 1023.7 1007.6C1025.3 1009.6 1026.9 1011.7 1028.5 1013.7C1030.1 1015.7 1031.8 1017.7 1033.5 1019.7C1035.1 1021.6 1036.8 1023.6 1038.5 1025.6C1040.1 1027.6 1041.8 1029.5 1043.5 1031.5C1045.2 1033.4 1047.0 1035.4 1048.7 1037.3C1050.4 1039.2 1052.1 1041.2 1053.8 1043.1C1055.6 1045.0 1057.3 1046.9 1059.0 1048.9C1060.8 1050.8 1062.5 1052.7 1064.2 1054.6C1066.0 1056.5 1067.7 1058.5 1069.5 1060.4C1071.2 1062.3 1073.0 1064.2 1074.7 1066.1C1076.5 1068.0 1078.2 1069.9 1080.0 1071.8C1081.7 1073.7 1083.5 1075.6 1085.2 1077.5C1087.0 1079.4 1088.8 1081.3 1090.5 1083.2C1092.3 1085.0 1094.1 1086.9 1095.8 1088.8C1097.6 1090.7 1099.4 1092.6 1101.1 1094.5C1102.9 1096.3 1104.7 1098.2 1106.5 1100.1C1108.3 1101.9 1110.1 1103.8 1111.9 1105.7C1113.7 1107.5 1115.5 1109.4 1117.3 1111.2C1119.1 1113.1 1120.9 1114.9 1122.7 1116.7C1124.5 1118.6 1126.4 1120.4 1128.2 1122.2C1130.0 1124.0 1131.9 1125.8 1133.7 1127.6C1135.6 1129.4 1137.4 1131.2 1139.3 1133.0C1141.2 1134.8 1143.1 1136.6 1144.9 1138.4C1146.8 1140.1 1148.7 1141.9 1150.6 1143.6C1152.6 1145.4 1154.5 1147.1 1156.4 1148.8C1158.3 1150.6 1160.3 1152.3 1162.2 1154.0C1164.2 1155.7 1166.1 1157.4 1168.1 1159.0C1170.1 1160.7 1172.1 1162.4 1174.1 1164.0C1176.1 1165.7 1178.1 1167.3 1180.1 1169.0C1182.1 1170.6 1184.1 1172.2 1186.2 1173.8C1188.2 1175.5 1190.2 1177.0 1192.3 1178.6C1194.4 1180.2 1196.4 1181.8 1198.5 1183.4C1200.5 1184.9 1202.6 1186.5 1204.7 1188.0C1206.8 1189.6 1208.8 1191.1 1210.9 1192.6C1213.0 1194.1 1215.1 1195.7 1217.2 1197.2C1219.3 1198.7 1222.4 1200.9 1223.4 1201.7"/>
<ellipse cx="292.6" cy="658.6" rx="7.6" ry="10.8" transform="rotate(-15 292.6 658.6)"/>
<ellipse cx="292.6" cy="658.6" rx="3.7" ry="5.2" transform="rotate(-15 292.6 658.6)"/>
<ellipse cx="901.0" cy="776.6" rx="7.6" ry="10.8" transform="rotate(-13 901.0 776.6)"/>
<ellipse cx="901.0" cy="776.6" rx="3.7" ry="5.2" transform="rotate(-13 901.0 776.6)"/>
<ellipse cx="610.6" cy="1273.1" rx="7.1" ry="12.8" transform="rotate(4 610.6 1273.1)"/>
<ellipse cx="610.6" cy="1273.1" rx="3.8" ry="5.9" transform="rotate(4 610.6 1273.1)"/>
</g>
<g fill="none" stroke="#0d0d0d" stroke-width="1.1" stroke-linecap="round" stroke-linejoin="round">
<path d="M837.0 1528.8L847.0 1521.0L837.5 1540.5L826.5 1550.0L837.0 1528.8"/>
<path d="M785.0 555.6L809.4 546.9"/>
<path d="M802.5 563.0L809.6 561.9"/>
<path d="M810.5 580.0L814.6 579.4"/>
<path d="M467.2 1286.0L479.3 1314.3"/>
<path d="M588.0 1293.2C590.0 1292.6 596.5 1290.7 600.0 1289.5C603.5 1288.3 607.5 1286.6 609.0 1286.0"/>
<path d="M873.2 1065.8L878.0 1086.5"/>
</g>
<g fill="none" stroke="#2a2a2a" stroke-width="1.0">
<path d="M252.0 525.3L264.6 614.5"/>
<path d="M800.2 442.5L813.0 530.8"/>
<path d="M826.6 442.5L813.0 530.8"/>
<path d="M270.0 534.7L459.0 505.7"/>
<path d="M595.0 484.8L785.0 455.7"/>
<path d="M840.0 456.1L1016.5 481.3"/>
<path d="M1206.5 508.4L1380.0 533.1"/>
<path d="M1398.1 524.4L1385.0 613.1"/>
<path d="M1388.0 629.0L1477.5 629.0"/>
<path d="M1232.2 1207.5L1477.5 1207.5"/>
<path d="M1467.0 645.0L1467.0 855.0"/>
<path d="M1467.0 981.5L1467.0 1207.5"/>
<path d="M526.5 1315.0L526.5 1385.0"/>
<circle cx="526.5" cy="1475.8" r="90.8"/>
<path d="M880.5 1135.0L880.5 1205.0"/>
<circle cx="880.5" cy="1264" r="59.2"/>
<path d="M1164.5 1200.0L1164.5 1272.0"/>
<circle cx="1164.5" cy="1363.2" r="91.2"/>
</g>
<g fill="#000" stroke="none">
<path d="M1218.9 1200.3L1223.9 1201.6L1221.4 1208.4L1215.9 1216.4L1210.5 1221.9L1205.4 1224.9L1202.3 1225.4L1201.4 1223.2L1214.1 1205.2Z"/>
<path d="M252.0 537.5L273.5 526.1L275.9 541.9Z"/>
<path d="M800.5 453.3L779.0 464.7L776.6 448.9Z"/>
<path d="M825.5 454.0L849.4 449.3L847.1 465.2Z"/>
<path d="M1396.5 535.5L1372.6 540.2L1374.9 524.3Z"/>
<path d="M1467.0 629.2L1475.0 652.2L1459.0 652.2Z"/>
<path d="M526.5 1298.8L534.5 1321.8L518.5 1321.8Z"/>
<path d="M880.5 1118.8L888.5 1141.8L872.5 1141.8Z"/>
<path d="M1164.5 1185.8L1172.5 1208.8L1156.5 1208.8Z"/>
</g>
<g font-family="'Liberation Sans', Arial, sans-serif" fill="#111" opacity="0.999" style="text-rendering:geometricPrecision">
<text x="504.36" y="509.40" font-size="37.6" textLength="50.78" lengthAdjust="spacingAndGlyphs" transform="rotate(-8.727 507.00 509.40)">15″</text>
<text x="1064.16" y="498.85" font-size="37.6" textLength="97.22" lengthAdjust="spacingAndGlyphs" transform="rotate(8.121 1066.75 498.85)">17.75″</text>
<text x="1428.28" y="930.20" font-size="37.6" textLength="79.06" lengthAdjust="spacingAndGlyphs">14.5″</text>
<text x="853.35" y="1279.90" font-size="37.6" textLength="60.50" lengthAdjust="spacingAndGlyphs">0.5″</text>
<text x="463.34" y="1494.90" font-size="37.6" textLength="60.71" lengthAdjust="spacingAndGlyphs">0.5″</text>
<text x="530.22" y="1494.90" font-size="37.6" textLength="20.32" lengthAdjust="spacingAndGlyphs">X</text>
<text x="560.95" y="1494.90" font-size="37.6" textLength="31.70" lengthAdjust="spacingAndGlyphs">1″</text>
<text x="1102.24" y="1381.80" font-size="37.6" textLength="60.71" lengthAdjust="spacingAndGlyphs">0.5″</text>
<text x="1169.12" y="1381.80" font-size="37.6" textLength="20.32" lengthAdjust="spacingAndGlyphs">X</text>
<text x="1199.85" y="1381.80" font-size="37.6" textLength="31.70" lengthAdjust="spacingAndGlyphs">1″</text>
</g>
</svg>
</body></html>
